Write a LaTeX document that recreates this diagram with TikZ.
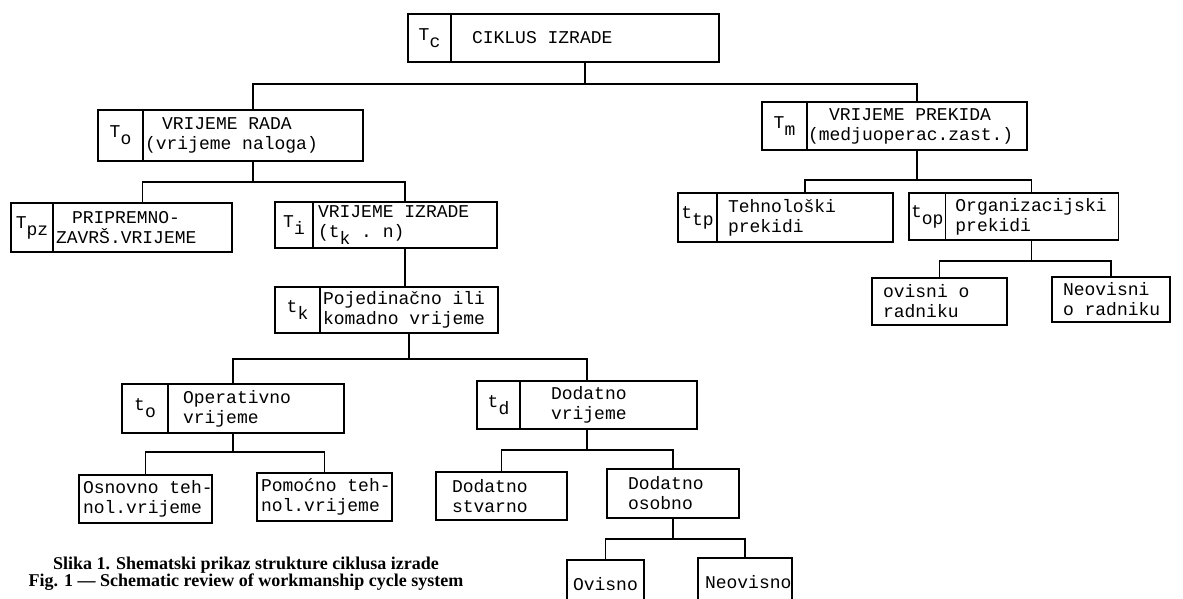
\documentclass[tikz,border=0pt]{standalone}
\usepackage{fontspec}
\setmainfont{Liberation Serif}
\setmonofont{Liberation Mono}
\usetikzlibrary{positioning,calc}
\newcommand{\lowsub}[1]{\raisebox{-3.5pt}{#1}}
\newcommand{\tsp}{\hspace*{0.6em}}
\tikzset{
    % typed boxes
    cell/.style={draw,line width=0.9pt,outer sep=0pt,inner ysep=0pt,align=left,font=\ttfamily\fontsize{9}{10}\selectfont},
    symcell/.style={cell,anchor=north west,inner xsep=1pt},
    leaf/.style={cell,anchor=north west},
    link/.style={line width=0.55pt},
    caption/.style={align=center,font=\bfseries\fontsize{9}{8.6}\selectfont}
}

\begin{document}
\begin{tikzpicture}[x=0.5pt,y=-0.5pt]
    \useasboundingbox (0,0) rectangle (1183,599);
    % Level 0
    \node[symcell,minimum width=21.5pt,minimum height=24pt] (cycT) at (408,14) {T\lowsub{c}};
    \node[cell,right=0pt of cycT,minimum height=24pt,text width=113pt,inner xsep=10.5pt] (cyc) {CIKLUS\tsp IZRADE};
    % Level 1
    \node[symcell,minimum width=22.5pt,minimum height=25.5pt] (radT) at (98,110) {T\lowsub{o}};
    \node[cell,right=0pt of radT,minimum height=25.5pt,text width=108pt,inner xsep=1pt] (rad) {\hspace*{8.5pt}VRIJEME\tsp RADA\\(vrijeme\tsp naloga)};
    \node[symcell,minimum width=22.5pt,minimum height=24pt] (prekT) at (762,102) {T\lowsub{m}};
    \node[cell,right=0pt of prekT,minimum height=24pt,text width=109pt,inner xsep=0.5pt] (prek) {\hspace*{10.5pt}VRIJEME\tsp PREKIDA\\(medjuoperac.zast.)};
    % Level 2
    \node[symcell,minimum width=21pt,minimum height=24.5pt] (pzT) at (11,203) {T\lowsub{pz}};
    \node[cell,right=0pt of pzT,minimum height=24.5pt,text width=86.5pt,inner xsep=1.5pt] (pz) {\hspace*{8pt}PRIPREMNO-\\ZAVRŠ.VRIJEME};
    \node[symcell,minimum width=19pt,minimum height=23pt] (izrT) at (275,202) {T\lowsub{i}};
    \node[cell,right=0pt of izrT,minimum height=23pt,text width=87pt,inner xsep=2.5pt] (izr) {VRIJEME\tsp IZRADE\\(t\lowsub{k}\tsp.\tsp n)};
    \node[symcell,minimum width=19.5pt,minimum height=24.5pt] (tehnT) at (678,193) {t\lowsub{tp}};
    \node[cell,right=0pt of tehnT,minimum height=24.5pt,text width=77pt,inner xsep=5.5pt] (tehn) {Tehnološki\\prekidi};
    \node[symcell,minimum width=18pt,minimum height=23.5pt] (orgT) at (909,193) {t\lowsub{op}};
    \node[cell,right=0pt of orgT,minimum height=23.5pt,text width=76.5pt,inner xsep=5pt] (org) {Organizacijski\\prekidi};
    % Level 3
    \node[symcell,minimum width=22.5pt,minimum height=23pt] (komT) at (275,287) {t\lowsub{k}};
    \node[cell,right=0pt of komT,minimum height=23pt,text width=86pt,inner xsep=1.5pt] (kom) {Pojedinačno\tsp ili\\komadno\tsp vrijeme};
    \node[leaf,minimum height=23.5pt,text width=56.5pt,inner xsep=5.5pt] (ovr) at (872,278) {ovisni\tsp o\\radniku};
    \node[leaf,minimum height=22.5pt,text width=48pt,inner xsep=5.5pt] (neovr) at (1052,277) {Neovisni\\o\tsp radniku};
    % Level 4
    \node[symcell,minimum width=23pt,minimum height=24.5pt] (operT) at (122,384) {t\lowsub{o}};
    \node[cell,right=0pt of operT,minimum height=24.5pt,text width=73pt,inner xsep=7.5pt] (oper) {Operativno\\vrijeme};
    \node[symcell,minimum width=21.5pt,minimum height=24pt] (dodT) at (477,381) {t\lowsub{d}};
    \node[cell,right=0pt of dodT,minimum height=24pt,text width=57.5pt,inner xsep=15.5pt] (dod) {Dodatno\\vrijeme};
    % Level 5
    \node[leaf,minimum height=24pt,text width=62.5pt,inner xsep=2pt] (osn) at (79,475) {Osnovno\tsp teh-\\nol.vrijeme};
    \node[leaf,minimum height=24pt,text width=63.5pt,inner xsep=2pt] (pom) at (257,473) {Pomoćno\tsp teh-\\nol.vrijeme};
    \node[leaf,minimum height=24pt,text width=49.5pt,inner xsep=8pt] (dstv) at (436,472) {Dodatno\\stvarno};
    \node[leaf,minimum height=24.5pt,text width=45pt,inner xsep=10.5pt] (dosb) at (607,469) {Dodatno\\osobno};
    % Level 6
    \node[leaf,minimum height=24pt,text width=32.5pt,inner xsep=3pt] (ovs) at (567,560) {Ovisno};
    \node[leaf,minimum height=24pt,text width=40pt,inner xsep=3.5pt] (neovs) at (698,558) {Neovisno};
    % Caption
    \node[caption] (capt) at (246,574) {Slika 1. Shematski prikaz strukture ciklusa izrade\\Fig. 1 --- Schematic review of workmanship cycle system};
    % Bus lines
    \coordinate (busA) at (0,84);
    \coordinate (busB) at (0,182);
    \coordinate (busG) at (0,180);
    \coordinate (busH) at (0,261);
    \coordinate (busC) at (0,359);
    \coordinate (busD) at (0,452);
    \coordinate (busE) at (0,450);
    \coordinate (busF) at (0,539);
    \coordinate (operN) at ($(operT.north west)!0.5!(oper.north east)$);
    \coordinate (operS) at ($(operT.south west)!0.5!(oper.south east)$);
    \coordinate (dodN) at ($(dodT.north west)!0.5!(dod.north east)$);
    \coordinate (dodS) at ($(dodT.south west)!0.5!(dod.south east)$);
    % Connectors
    \draw[link] (cyc.south) -- (cyc.south |- busA);
    \draw[link] (rad.north) |- (prek.north |- busA) -- (prek.north);
    \draw[link] (rad.south) -- (rad.south |- busB);
    \draw[link] (pz.north) |- (izr.north |- busB) -- (izr.north);
    \draw[link] (izr.south) -- (izr.south |- kom.north);
    \draw[link] (kom.south) -- (kom.south |- busC);
    \draw[link] (operN) |- (dodN |- busC) -- (dodN);
    \draw[link] (operS) -- (operS |- busD);
    \draw[link] (osn.north) |- (pom.north |- busD) -- (pom.north);
    \draw[link] (dodS) -- (dodS |- busE);
    \draw[link] (dstv.north) |- (dosb.north |- busE) -- (dosb.north);
    \draw[link] (dosb.south) -- (dosb.south |- busF);
    \draw[link] (ovs.north) |- (neovs.north |- busF) -- (neovs.north);
    \draw[link] (prek.south) -- (prek.south |- busG);
    \draw[link] (tehn.north) |- (org.north |- busG) -- (org.north);
    \draw[link] (org.south) -- (org.south |- busH);
    \draw[link] (ovr.north) |- (neovr.north |- busH) -- (neovr.north);
\end{tikzpicture}
\end{document}
